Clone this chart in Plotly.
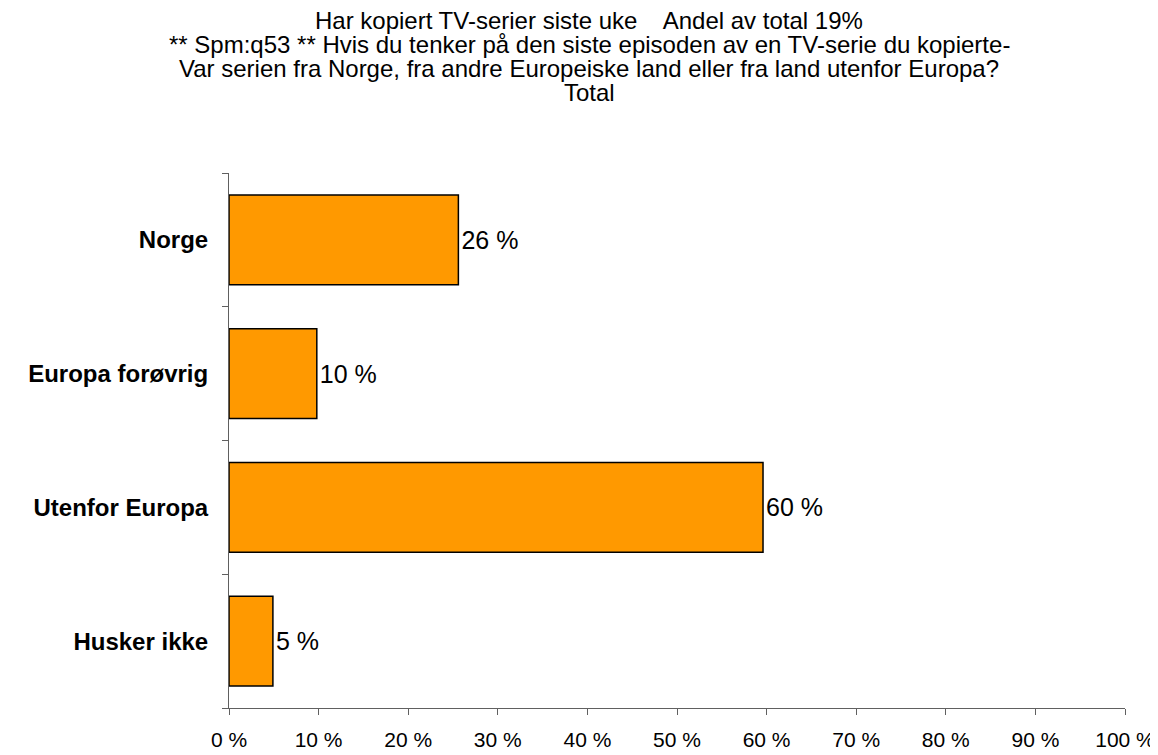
import plotly.graph_objects as go

categories = ["Norge", "Europa forøvrig", "Utenfor Europa", "Husker ikke"]
values = [25.6, 9.8, 59.6, 4.9]
labels = ["26 %", "10 %", "60 %", "5 %"]
x_ticks = [0, 10, 20, 30, 40, 50, 60, 70, 80, 90, 100]
x_tick_text = [f"{v} %" for v in x_ticks]

title_lines = [
    "Har kopiert TV-serier siste uke    Andel av total 19%",
    "** Spm:q53 ** Hvis du tenker på den siste episoden av en TV-serie du kopierte-",
    "Var serien fra Norge, fra andre Europeiske land eller fra land utenfor Europa?",
    "Total",
]

FONT = "Liberation Sans, Arial, sans-serif"

fig = go.Figure(go.Bar(
    y=categories, x=values, orientation="h",
    marker=dict(color="#FF9900", line=dict(color="black", width=1.5)),
    text=labels, textposition="outside", cliponaxis=False,
    textfont=dict(size=25, color="black", family=FONT),
))

# page has an 8px body margin; plot area target on page: x 229..1125, y 173..708
OFF = 8
top_px, bot_px = 173, 708
line_centers_px = [20.5, 44.5, 68.5, 92.5]
annotations = []
for line, cy in zip(title_lines, line_centers_px):
    annotations.append(dict(
        text=line, xref="paper", yref="paper",
        x=(589 - 229) / 896, y=(bot_px - cy) / (bot_px - top_px),
        xanchor="center", yanchor="middle", showarrow=False,
        font=dict(size=24, color="black", family=FONT),
    ))

fig.update_layout(
    width=1158 - OFF, height=755 - OFF,
    paper_bgcolor="white", plot_bgcolor="white",
    margin=dict(l=229 - OFF, r=33, t=173 - OFF, b=47, autoexpand=False),
    font=dict(family=FONT, color="black"),
    bargap=0.33,
    showlegend=False,
    annotations=annotations,
)
fig.update_xaxes(range=[0, 100], tickvals=x_ticks, ticktext=x_tick_text,
                 showgrid=False, zeroline=False, showline=True, linecolor="#606060",
                 linewidth=1, ticks="outside", ticklen=6, tickcolor="#606060",
                 tickfont=dict(size=21), ticklabelstandoff=7, automargin=False)
fig.update_yaxes(categoryorder="array", categoryarray=categories[::-1],
                 showgrid=False, showline=True, linecolor="#606060", linewidth=1,
                 ticks="outside", tickson="boundaries", ticklen=6, tickcolor="#606060",
                 tickfont=dict(size=24, family=FONT),
                 ticklabelstandoff=15, automargin=False,
                 tickvals=categories[::-1],
                 ticktext=[f"<b>{c}</b>" for c in categories[::-1]])

fig.write_html("out.html")
